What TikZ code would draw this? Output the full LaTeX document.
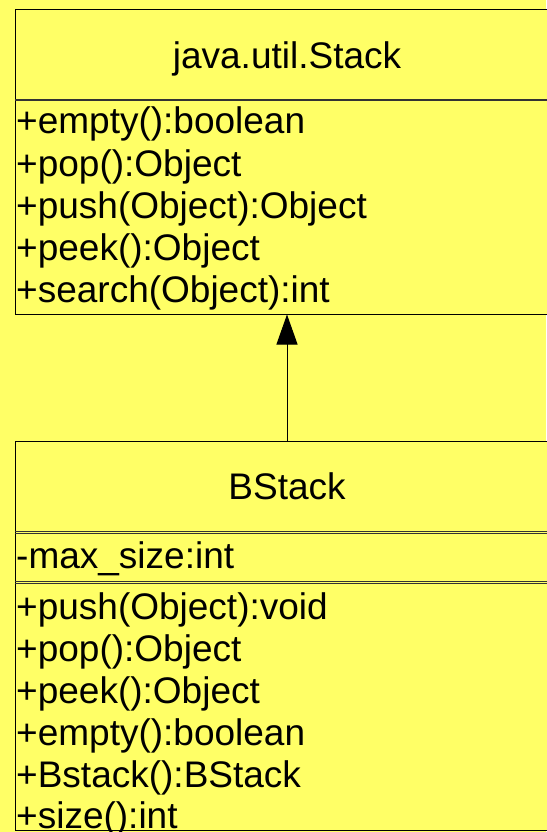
\documentclass[tikz,border=0pt]{standalone}
\usepackage{fontspec}
\setmainfont{Liberation Sans}
\usetikzlibrary{arrows.meta}
\definecolor{umlyellow}{HTML}{FFFF66}
\definecolor{sepgray}{HTML}{333333}
\tikzset{
  umlbox/.style={draw=black, line width=1pt, fill=umlyellow, inner sep=0pt, minimum width=544pt},
  umltitle/.style={font=\fontsize{37}{42}\selectfont, inner sep=0pt, anchor=base},
  member/.style={font=\fontsize{37}{42}\selectfont, inner sep=0pt, anchor=base west},
  sepline/.style={draw=sepgray, line width=2pt},
  dblline/.style={draw=sepgray, line width=0.8pt},
  inherit/.style={draw=black, line width=1pt, -{Triangle[width=21pt,length=30pt]}}
}
\begin{document}
\begin{tikzpicture}[x=1pt, y=-1pt]
  \fill[umlyellow] (0,0) rectangle (546,832);
  \useasboundingbox (0,0) rectangle (546,832);

  % superclass java.util.Stack
  \node[umlbox, minimum height=304pt] (stack) at (287,162) {};
  \node[umltitle] (stacktitle) at (287,69) {java.util.Stack};
  \draw[sepline] (15,100) -- (559,100);
  \node[member] (s1) at (16,134) {+empty():boolean};
  \node[member] (s2) at (16,176) {+pop():Object};
  \node[member] (s3) at (16,218) {+push(Object):Object};
  \node[member] (s4) at (16,260) {+peek():Object};
  \node[member] (s5) at (16,302) {+search(Object):int};

  % subclass BStack
  \node[umlbox, minimum height=389pt] (bstack) at (287,635.5) {};
  \node[umltitle] (bstacktitle) at (287,499) {BStack};
  \draw[dblline] (15,531) -- (559,531);
  \draw[dblline] (15,533.5) -- (559,533.5);
  \node[member] (b0) at (16,568) {-max\_size:int};
  \draw[dblline] (15,581) -- (559,581);
  \draw[dblline] (15,583.5) -- (559,583.5);
  \node[member] (b1) at (16,619) {+push(Object):void};
  \node[member] (b2) at (16,661) {+pop():Object};
  \node[member] (b3) at (16,703) {+peek():Object};
  \node[member] (b4) at (16,745) {+empty():boolean};
  \node[member] (b5) at (16,787) {+Bstack():BStack};
  \node[member] (b6) at (16,828) {+size():int};

  % generalisation arrow
  \draw[inherit] (bstack.north) -- (stack.south);
\end{tikzpicture}
\end{document}
